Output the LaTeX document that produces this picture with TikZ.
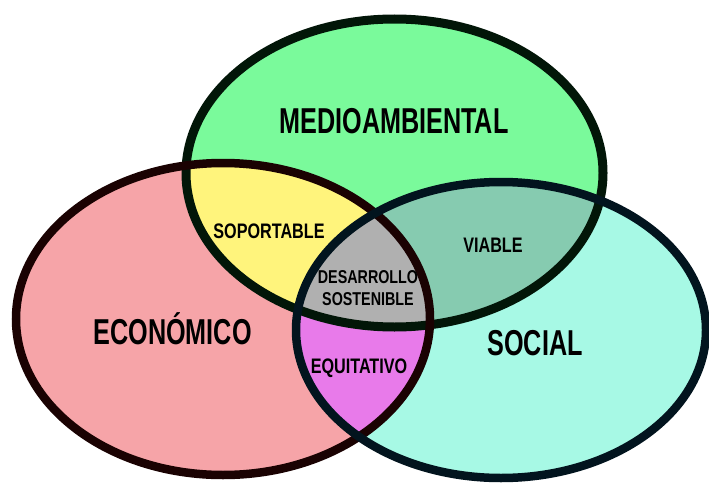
\documentclass[tikz,border=0pt]{standalone}
\usepackage{fontspec}
\newfontfamily\vennbig[FakeStretch=0.7]{Liberation Sans}
\newfontfamily\vennsmall[FakeStretch=0.77]{Liberation Sans}
\usepackage{tikz}
\usetikzlibrary{calc}
\definecolor{ambiente}{RGB}{122,250,155}
\definecolor{economia}{RGB}{246,164,168}
\definecolor{sociedad}{RGB}{167,249,229}
\definecolor{soporte}{RGB}{255,244,124}
\definecolor{viable}{RGB}{134,203,176}
\definecolor{equidad}{RGB}{232,122,234}
\definecolor{nucleo}{RGB}{176,176,176}
\definecolor{bordeA}{RGB}{2,22,8}
\definecolor{bordeE}{RGB}{26,2,2}
\definecolor{bordeS}{RGB}{2,20,30}

\newcommand{\elAmb}{(394.5,173) ellipse [x radius=208.5, y radius=154]}
\newcommand{\elEco}{(223,319) ellipse [x radius=207, y radius=156]}
\newcommand{\elSoc}{(501,330) ellipse [x radius=205, y radius=148]}

\begin{document}
\begin{tikzpicture}[x=1pt, y=-1pt,
        bigtxt/.style={anchor=base, font=\vennbig\bfseries\fontsize{36}{42}\selectfont},
        smalltxt/.style={anchor=base, font=\vennsmall\bfseries\fontsize{21}{24}\selectfont}]
        \useasboundingbox (0,0) rectangle (709,484);

        \fill[ambiente] \elAmb;
        \fill[economia] \elEco;
        \fill[sociedad] \elSoc;

        % intersecciones
        \begin{scope}
            \clip \elAmb;
            \fill[soporte] \elEco;
            \fill[viable] \elSoc;
        \end{scope}
        \begin{scope}
            \clip \elEco;
            \fill[equidad] \elSoc;
            \clip \elSoc;
            \fill[nucleo] \elAmb;
        \end{scope}

        \draw[bordeA, line width=9pt] \elAmb;
        \draw[bordeE, line width=8.5pt] \elEco;
        \draw[bordeS, line width=8.5pt] \elSoc;

        \node[bigtxt] (medio) at (394,134) {MEDIOAMBIENTAL};
        \node[bigtxt] (eco) at (172.5,344) {ECONÓMICO};
        \node[bigtxt] (soc) at (535,355) {SOCIAL};
        \node[smalltxt] (sop) at (269,238) {SOPORTABLE};
        \node[smalltxt] (via) at (493,252) {VIABLE};
        \node[smalltxt] (equ) at (359,373) {EQUITATIVO};
        \node[align=center, font=\vennsmall\bfseries\fontsize{18.6}{22}\selectfont] (des) at (368,288) {DESARROLLO\\SOSTENIBLE};
\end{tikzpicture}
\end{document}
